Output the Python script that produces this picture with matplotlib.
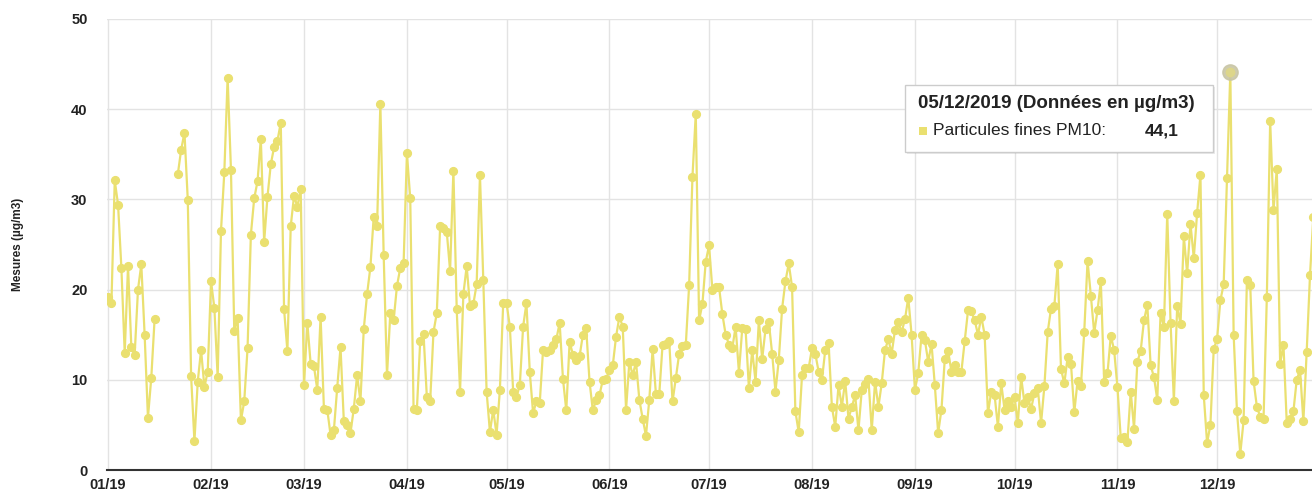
import numpy as np
import pandas as pd
import matplotlib.pyplot as plt
import matplotlib.dates as mdates
from matplotlib.patches import Rectangle

plt.rcParams['font.family'] = ['Liberation Sans', 'DejaVu Sans']

# daily PM10 values (µg/m3), 2019, NaN = missing
jan = [19.2, 18.5, 32.1, 29.4, 22.4, 13.0, 22.6, 13.6, 12.8, 20.0, 22.8, 15.0, 5.8, 10.2, 16.7,
       np.nan, np.nan, np.nan, np.nan, np.nan, np.nan,
       32.8, 35.5, 37.4, 29.9, 10.4, 3.2, 9.8, 13.3, 9.2, 10.9]
feb = [20.9, 18.0, 10.3, 26.5, 33.0, 43.5, 33.3, 15.4, 16.9, 5.5, 7.6, 13.5, 26.1, 30.1,
       32.0, 36.7, 25.3, 30.3, 33.9, 35.8, 36.5, 38.5, 17.8, 13.2, 27.0, 30.4, 29.2, 31.1]
mar = [9.4, 16.3, 11.8, 11.5, 8.9, 17.0, 6.8, 6.7, 3.9, 4.4, 9.1, 13.6, 5.4, 5.0, 4.1, 6.8,
       10.5, 7.6, 15.6, 19.5, 22.5, 28.1, 27.0, 40.6, 23.8, 10.5, 17.4, 16.6, 20.4, 22.4, 22.9]
apr = [35.1, 30.1, 6.8, 6.7, 14.3, 15.1, 8.1, 7.6, 15.3, 17.4, 27.0, 26.8, 26.4, 22.1, 33.2,
       17.8, 8.7, 19.5, 22.6, 18.2, 18.4, 20.6, 32.7, 21.1, 8.7, 4.2, 6.7, 3.9, 8.9, 18.5]
may = [18.5, 15.9, 8.7, 8.1, 9.4, 15.9, 18.5, 10.9, 6.3, 7.6, 7.4, 13.3, 13.1, 13.3, 13.9,
       14.5, 16.3, 10.1, 6.6, 14.2, 12.8, 12.2, 12.6, 15.0, 15.7, 9.8, 6.6, 7.8, 8.3, 10.0, 10.1]
jun = [11.1, 11.6, 14.8, 17.0, 15.9, 6.7, 12.0, 10.5, 12.0, 7.8, 5.7, 3.8, 7.8, 13.4, 8.4,
       8.4, 13.9, 14.0, 14.3, 7.6, 10.2, 12.9, 13.7, 13.9, 20.5, 32.5, 39.5, 16.6, 18.4, 23.1]
jul = [24.9, 20.0, 20.3, 20.3, 17.3, 15.0, 13.9, 13.5, 15.9, 10.8, 15.7, 15.6, 9.1, 13.3, 9.8,
       16.6, 12.3, 15.6, 16.4, 12.9, 8.7, 12.2, 17.9, 20.9, 22.9, 20.3, 6.5, 4.2, 10.5, 11.3, 11.3]
aug = [13.5, 12.9, 10.9, 10.0, 13.3, 14.1, 7.0, 4.8, 9.4, 7.0, 9.9, 5.7, 7.0, 8.3, 4.4, 8.9,
       9.5, 10.1, 4.4, 9.8, 7.0, 9.6, 13.3, 14.5, 12.9, 15.5, 16.4, 15.3, 16.7, 19.1, 15.0]
sep = [8.9, 10.7, 15.0, 14.4, 12.0, 14.0, 9.4, 4.1, 6.7, 12.3, 13.2, 10.9, 11.6, 10.9, 10.9,
       14.3, 17.7, 17.6, 16.6, 15.0, 17.0, 15.0, 6.3, 8.7, 8.3, 4.8, 9.6, 6.7, 7.6, 7.0]
oct_ = [8.1, 5.2, 10.3, 7.4, 8.1, 6.8, 8.5, 9.1, 5.2, 9.3, 15.3, 17.9, 18.2, 22.8, 11.2, 9.6,
        12.5, 11.8, 6.4, 9.9, 9.3, 15.3, 23.2, 19.3, 15.2, 17.7, 20.9, 9.8, 10.7, 14.9, 13.3]
nov = [9.2, 3.5, 3.7, 3.1, 8.7, 4.6, 12.0, 13.2, 16.6, 18.3, 11.6, 10.3, 7.8, 17.4, 15.9,
       28.4, 16.3, 7.7, 18.2, 16.2, 25.9, 21.8, 27.3, 23.5, 28.5, 32.7, 8.3, 3.0, 5.0, 13.4]
dec = [14.5, 18.8, 20.6, 32.4, 44.1, 15.0, 6.5, 1.8, 5.5, 21.1, 20.5, 9.9, 7.0, 5.9, 5.6,
       19.2, 38.7, 28.8, 33.4, 11.8, 13.9, 5.2, 5.6, 6.5, 10.0, 11.1, 5.4, 13.1, 21.6, 28.1]

pm10 = jan + feb + mar + apr + may + jun + jul + aug + sep + oct_ + nov + dec
dates = pd.date_range('2019-01-01', periods=len(pm10), freq='D')
hover_date = pd.Timestamp('2019-12-05')
hover_value = 44.1

yellow = '#eae070'

fig = plt.figure(figsize=(13.12, 4.95), dpi=100)
ax = fig.add_axes([107 / 1312, 1 - 470 / 495, 1 - 107 / 1312, (470 - 19) / 495])

ax.plot(dates, pm10, color=yellow, lw=1.6, marker='o', ms=5.6, mec=yellow, mfc=yellow, zorder=3)
ax.plot([hover_date], [hover_value], 'o', ms=11, color='#c9c6a6', alpha=0.9, zorder=4)
ax.plot([hover_date], [hover_value], 'o', ms=6, color='#ddd68a', zorder=5)

ax.set_xlim(pd.Timestamp('2019-01-01') - pd.Timedelta(hours=8),
            pd.Timestamp('2019-01-01') + pd.Timedelta(days=362.6))
ax.set_ylim(0, 50)
ax.set_yticks([0, 10, 20, 30, 40, 50])
ax.xaxis.set_major_locator(mdates.MonthLocator())
ax.xaxis.set_major_formatter(mdates.DateFormatter('%m/%y'))
ax.grid(True, color='#e3e3e3', lw=1)
ax.set_axisbelow(True)
for s in ['top', 'right', 'left']:
    ax.spines[s].set_visible(False)
ax.spines['bottom'].set_color('#333333')
ax.spines['bottom'].set_linewidth(1.5)
ax.tick_params(axis='both', length=0, labelsize=10.5, colors='#222222')
ax.tick_params(axis='x', pad=6)
ax.tick_params(axis='y', pad=14)
for lab in ax.get_xticklabels() + ax.get_yticklabels():
    lab.set_fontweight('bold')
ax.set_ylabel('Mesures (µg/m3)', fontsize=8.5, fontweight='bold', color='#222222', labelpad=34)

# tooltip
bx0, by0, bx1, by1 = 905, 85, 1213, 152
fig.add_artist(Rectangle(((bx0 + 2) / 1312, 1 - (by1 + 2) / 495), (bx1 - bx0) / 1312, (by1 - by0) / 495,
                         transform=fig.transFigure, facecolor='#000000', alpha=0.08,
                         edgecolor='none', zorder=9))
fig.add_artist(Rectangle((bx0 / 1312, 1 - by1 / 495), (bx1 - bx0) / 1312, (by1 - by0) / 495,
                         transform=fig.transFigure, facecolor='white', edgecolor='#cccccc',
                         lw=1, zorder=10))
fig.text(918 / 1312, 1 - 103 / 495, '05/12/2019 (Données en µg/m3)', fontsize=13.5, fontweight='bold',
         color='#222222', va='center', zorder=11)
fig.add_artist(Rectangle((919 / 1312, 1 - 135 / 495), 8 / 1312, 8 / 495, transform=fig.transFigure,
                         facecolor=yellow, edgecolor='none', zorder=11))
fig.text(933 / 1312, 1 - 131 / 495, 'Particules fines PM10:', fontsize=12.5, color='#222222',
         va='center', zorder=11)
fig.text(1145 / 1312, 1 - 131 / 495, '44,1', fontsize=12.5, fontweight='bold', color='#222222',
         va='center', zorder=11)

fig.savefig('out.png', dpi=100)
